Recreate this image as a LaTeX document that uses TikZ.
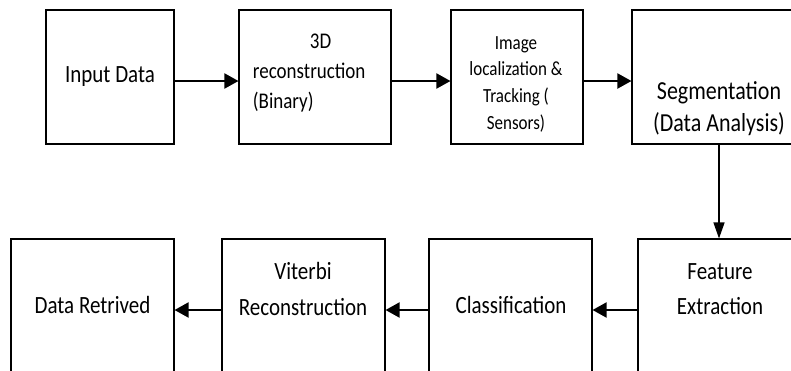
\documentclass[tikz,border=0pt]{standalone}
\usepackage{fontspec}
\setmainfont{Carlito}
\usetikzlibrary{arrows.meta}

\begin{document}
\begin{tikzpicture}[x=1pt,y=1pt,yscale=-1,xscale=1,
	box/.style={draw, line width=1.1pt, minimum height=134pt, inner sep=0pt},
	txt/.style={inner sep=0.75pt, align=center, yscale=-1.18, transform shape, font=\fontsize{21}{30}\selectfont},
	flow/.style={line width=2pt, -{Triangle[length=14pt,width=15pt]}},
	drop/.style={line width=1.3pt, -{Triangle[length=16pt,width=11pt]}}]
	%set diagram size and cut the lower row at the page edge
	\useasboundingbox (0,0) rectangle (791,370);
	\clip (0,0) rectangle (791,370);
	
	%Shape: Rectangle [top row]
	\node [box, minimum width=128pt] (input) at (110,77) {};
	\node [box, minimum width=152pt] (recon) at (315,77) {};
	\node [box, minimum width=132pt] (track) at (517,77) {};
	\node [box, minimum width=174pt] (segm) at (719,77) {};
	%Shape: Rectangle [bottom row]
	\node [box, minimum width=163pt] (result) at (92.5,306) {};
	\node [box, minimum width=163pt] (viterbi) at (303.5,306) {};
	\node [box, minimum width=163pt] (classif) at (510.5,306) {};
	\node [box, minimum width=160pt] (feature) at (718,306) {};
	
	%Straight Lines [top row]
	\draw [flow] ([yshift=4pt]input.east) -- ([yshift=4pt]recon.west);
	\draw [flow] ([yshift=4pt]recon.east) -- ([yshift=4pt]track.west);
	\draw [flow] ([yshift=4pt]track.east) -- ([yshift=4pt]segm.west);
	%Straight Lines [down]
	\draw [drop] (segm.south) -- (segm.south |- feature.north);
	%Straight Lines [bottom row]
	\draw [flow] ([yshift=4pt]feature.west) -- ([yshift=4pt]classif.east);
	\draw [flow] ([yshift=4pt]classif.west) -- ([yshift=4pt]viterbi.east);
	\draw [flow] ([yshift=4pt]viterbi.west) -- ([yshift=4pt]result.east);
	
	% Text Node
	\node [txt] (inputtxt) at (110,77) {Input Data};
	% Text Node
	\node [txt, align=left, anchor=west, font=\fontsize{19}{25.5}\selectfont] (recontxt) at (252,73) {\hspace*{57pt}3D\\reconstruction\\(Binary)};
	% Text Node
	\node [txt, font=\fontsize{17}{22.6}\selectfont] (tracktxt) at (516,84) {Image\\localization \&\\Tracking (\\Sensors)};
	% Text Node
	\node [txt, font=\fontsize{22}{27}\selectfont] (segmtxt) at (719,109) {Segmentation\\(Data Analysis)};
	% Text Node
	\node [txt] (resulttxt) at (92.5,305) {Data Retrived};
	% Text Node
	\node [txt] (viterbitxt) at (303,289) {Viterbi\\Reconstruction};
	% Text Node
	\node [txt] (classiftxt) at (511,305) {Classification};
	% Text Node
	\node [txt] (featuretxt) at (720,289) {Feature\\Extraction};
\end{tikzpicture}
\end{document}
